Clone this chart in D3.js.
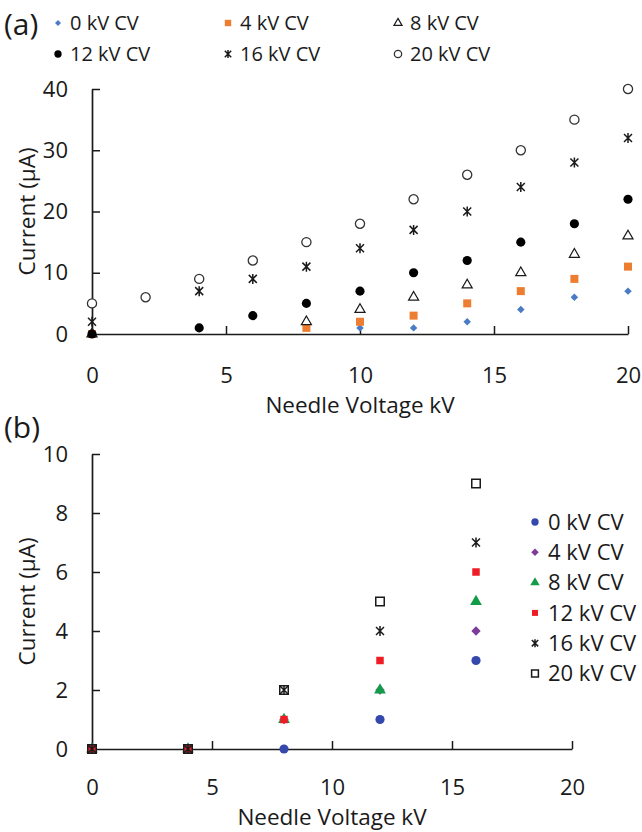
<!DOCTYPE html>
<html>
<head>
<meta charset="utf-8">
<script src="https://cdn.jsdelivr.net/npm/d3@7/dist/d3.min.js"></script>
<style>
  html, body { margin: 0; padding: 0; background: #fff; }
  svg { display: block; }
  text { font-family: "Open Sans", "Noto Sans", sans-serif; fill: #1a1a1a; }
</style>
</head>
<body>
<svg id="chart" width="642" height="832"></svg>
<script>
// ---- Panel (a): current vs needle voltage for each control voltage ----
const voltsA = [0, 2, 4, 6, 8, 10, 12, 14, 16, 18, 20];
const cv0A  = [0, null, null, null, null, 1, 1, 2, 4, 6, 7];
const cv4A  = [0, null, null, null, 1, 2, 3, 5, 7, 9, 11];
const cv8A  = [0, null, null, null, 2, 4, 6, 8, 10, 13, 16];
const cv12A = [0, null, 1, 3, 5, 7, 10, 12, 15, 18, 22];
const cv16A = [2, null, 7, 9, 11, 14, 17, 20, 24, 28, 32];
const cv20A = [5, 6, 9, 12, 15, 18, 22, 26, 30, 35, 40];
const labelsA = ["0 kV CV", "4 kV CV", "8 kV CV", "12 kV CV", "16 kV CV", "20 kV CV"];
const xTicksA = [0, 5, 10, 15, 20];
const yTicksA = [0, 10, 20, 30, 40];

// ---- Panel (b) ----
const voltsB = [0, 4, 8, 12, 16];
const cv0B  = [0, 0, 0, 1, 3];
const cv4B  = [0, 0, 1, 2, 4];
const cv8B  = [0, 0, 1, 2, 5];
const cv12B = [0, 0, 1, 3, 6];
const cv16B = [0, 0, 2, 4, 7];
const cv20B = [0, 0, 2, 5, 9];
const labelsB = ["0 kV CV", "4 kV CV", "8 kV CV", "12 kV CV", "16 kV CV", "20 kV CV"];
const xTicksB = [0, 5, 10, 15, 20];
const yTicksB = [0, 2, 4, 6, 8, 10];

const svg = d3.select("#chart");

// Asterisk-style marker: an X with a vertical bar through it
const symbolAsterisk = {
  draw(ctx, size) {
    const r = Math.sqrt(size) / 2;
    const d = r * 0.8;
    ctx.moveTo(-d, -d); ctx.lineTo(d, d);
    ctx.moveTo(d, -d); ctx.lineTo(-d, d);
    ctx.moveTo(0, -r); ctx.lineTo(0, r);
  }
};

// marker style descriptors
function marker(type, size, fill, stroke, sw, rotate) {
  return { type, size, fill, stroke, sw: sw || 0, rotate: rotate || 0 };
}
const stylesA = [
  marker(d3.symbolSquare, 28, "#4a7bc4", "none", 0, 45),
  marker(d3.symbolSquare, 64, "#ed7d31", "none"),
  marker(d3.symbolTriangle, 44, "#fff", "#1a1a1a", 1.2),
  marker(d3.symbolCircle, 66, "#000", "none"),
  marker(symbolAsterisk, 100, "none", "#1a1a1a", 1.5),
  marker(d3.symbolCircle, 66, "#fff", "#333", 1.3)
];
const stylesB = [
  marker(d3.symbolCircle, 66, "#3549ad", "none"),
  marker(d3.symbolSquare, 44, "#7d3c98", "none", 0, 45),
  marker(d3.symbolTriangle, 60, "#129c48", "none"),
  marker(d3.symbolSquare, 56, "#ee1c25", "none"),
  marker(symbolAsterisk, 100, "none", "#1a1a1a", 1.5),
  marker(d3.symbolSquare, 72, "none", "#1a1a1a", 1.5)
];

function drawMarker(g, st, x, y, scale) {
  const k = scale || 1;
  g.append("path")
    .attr("d", d3.symbol().type(st.type).size(st.size * k * k)())
    .attr("transform", `translate(${x},${y}) rotate(${st.rotate})`)
    .attr("fill", st.fill)
    .attr("stroke", st.stroke)
    .attr("stroke-width", st.sw);
}

function styleAxis(g) {
  g.select(".domain").attr("stroke", "#1a1a1a").attr("stroke-width", 1.7);
  g.selectAll(".tick line").attr("stroke", "#1a1a1a").attr("stroke-width", 1.5);
  g.selectAll(".tick text").attr("font-size", 22).attr("fill", "#1a1a1a")
    .attr("font-family", "'Open Sans', sans-serif");
}

function panel(opts) {
  const x = d3.scaleLinear().domain([0, 20]).range(opts.xRange);
  const y = d3.scaleLinear().domain(opts.yDomain).range(opts.yRange);
  const g = svg.append("g");

  // x axis: ticks point up into the plot, labels placed well below
  const xa = g.append("g")
    .attr("transform", `translate(0,${y(0)})`)
    .call(d3.axisBottom(x).tickValues(opts.xTicks).tickSizeInner(-8).tickSizeOuter(0).tickPadding(opts.xPad));
  styleAxis(xa);
  xa.selectAll(".tick").filter(d => d === 0).select("line").remove();

  // y axis: ticks point right into the plot
  const ya = g.append("g")
    .attr("transform", `translate(${x(0)},0)`)
    .call(d3.axisLeft(y).tickValues(opts.yTicks).tickSizeInner(-8).tickSizeOuter(0).tickPadding(24));
  styleAxis(ya);
  ya.selectAll(".tick").filter(d => d === 0).select("line").remove();

  // axis titles
  g.append("text")
    .attr("x", (opts.xRange[0] + opts.xRange[1]) / 2)
    .attr("y", opts.xTitleY)
    .attr("text-anchor", "middle")
    .attr("font-size", 22.5)
    .text("Needle Voltage kV");
  g.append("text")
    .attr("transform", `translate(35,${(opts.yRange[0] + opts.yRange[1]) / 2}) rotate(-90)`)
    .attr("text-anchor", "middle")
    .attr("font-size", 22.5)
    .text("Current (\u03bcA)");

  // points
  opts.series.forEach((vals, i) => {
    const st = opts.styles[i];
    const sg = g.append("g");
    opts.volts.forEach((v, j) => {
      if (vals[j] == null) return;
      drawMarker(sg, st, x(v), y(vals[j]));
    });
  });
  return g;
}

// Panel (a)
panel({
  xRange: [92, 628], yDomain: [0, 40], yRange: [334, 89],
  xTicks: xTicksA, yTicks: yTicksA, xPad: 33, xTitleY: 413,
  volts: voltsA, series: [cv0A, cv4A, cv8A, cv12A, cv16A, cv20A], styles: stylesA
});

// Panel (b)
panel({
  xRange: [92, 572], yDomain: [0, 10], yRange: [749, 454],
  xTicks: xTicksB, yTicks: yTicksB, xPad: 30, xTitleY: 825,
  volts: voltsB, series: [cv0B, cv4B, cv8B, cv12B, cv16B, cv20B], styles: stylesB
});

// panel letters
svg.append("text").attr("x", 4).attr("y", 35)
  .attr("font-family", "'Liberation Serif', 'Times New Roman', serif").attr("font-size", 30)
  .text("(a)");
svg.append("text").attr("x", 4).attr("y", 438)
  .attr("font-family", "'Liberation Serif', 'Times New Roman', serif").attr("font-size", 30)
  .text("(b)");

// legend (a): three columns, two rows
const legA = svg.append("g");
const colX = [58, 228, 398], rowY = [23, 54];
labelsA.forEach((lab, i) => {
  const cx = colX[i % 3], cy = rowY[Math.floor(i / 3)];
  drawMarker(legA, stylesA[i], cx, cy, 0.8);
  legA.append("text").attr("x", cx + 12).attr("y", cy).attr("dy", "0.35em")
    .attr("font-size", 20).text(lab);
});

// legend (b): single column on the right
const legB = svg.append("g");
labelsB.forEach((lab, i) => {
  const cy = 522 + i * 30.3;
  drawMarker(legB, stylesB[i], 535, cy, 0.8);
  legB.append("text").attr("x", 548).attr("y", cy).attr("dy", "0.35em")
    .attr("font-size", 22).text(lab);
});
</script>
</body>
</html>
